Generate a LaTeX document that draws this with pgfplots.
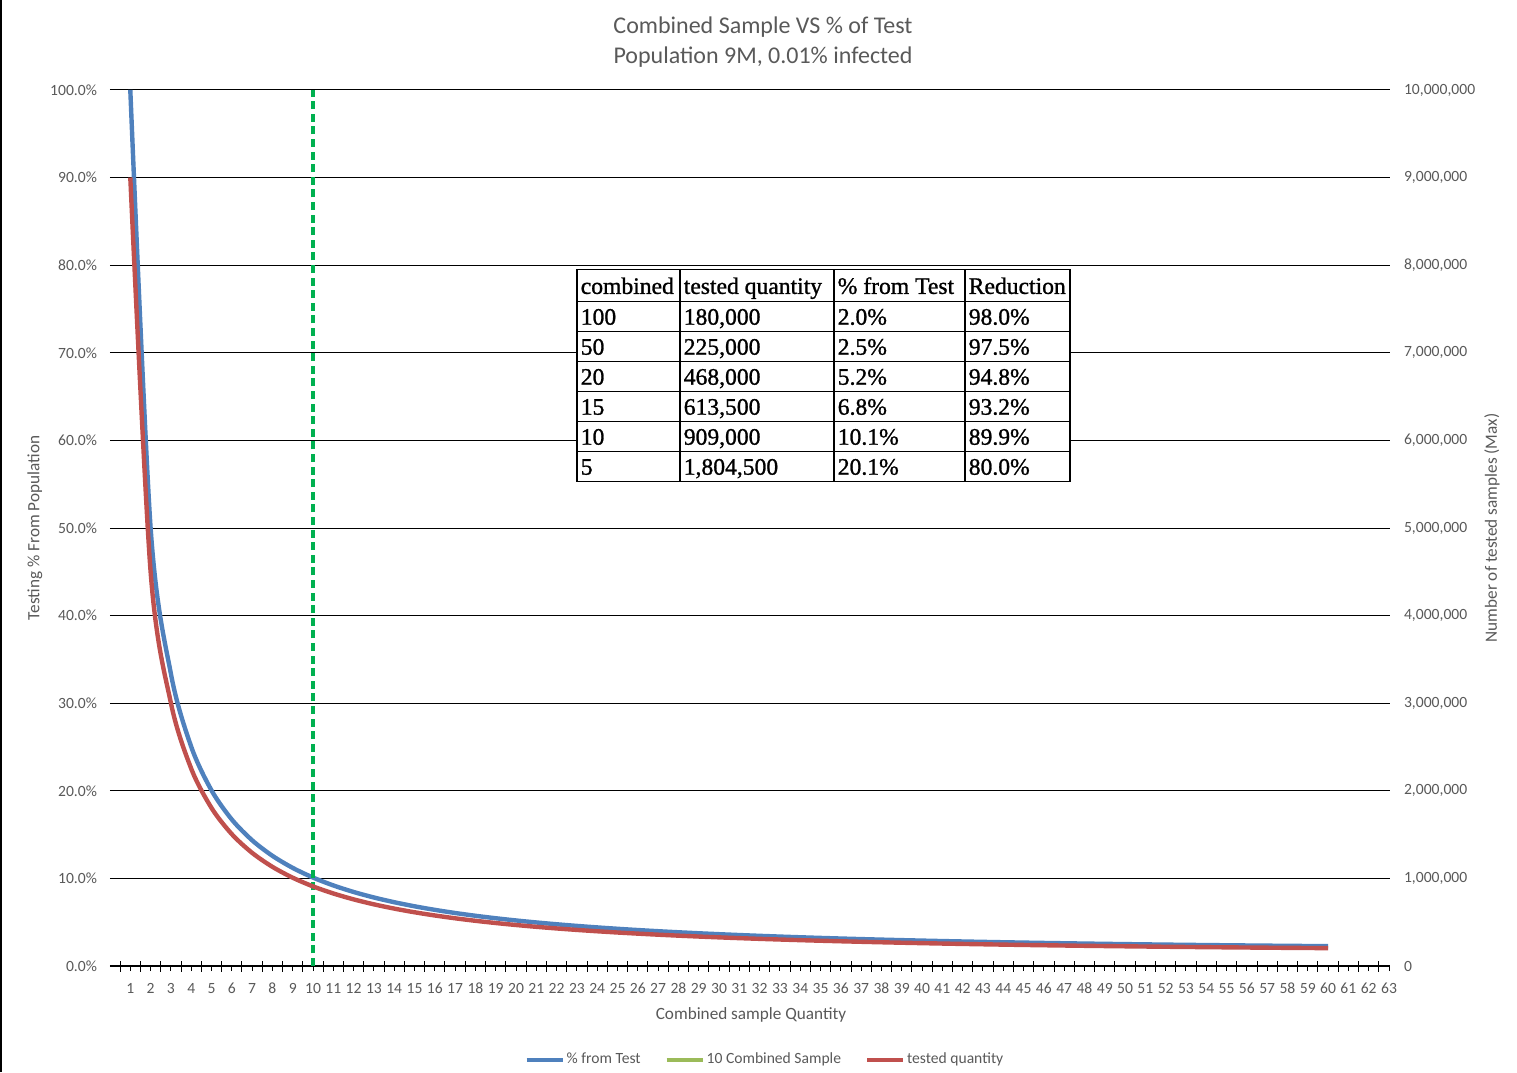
\documentclass[border=0pt]{standalone}
\usepackage{pgfplots}
\pgfplotsset{compat=1.18}
\usepackage{pgfplotstable}
\usepackage{array}
\usepackage{fontspec}
\setmainfont{Carlito}
\newfontfamily\tabfont[FakeBold=1.1]{Liberation Serif}
\definecolor{txtgray}{HTML}{595959}
\definecolor{exblue}{HTML}{4F81BD}
\definecolor{exred}{HTML}{C0504D}
\definecolor{exgreen}{HTML}{9BBB59}
\definecolor{dashgreen}{HTML}{00B050}

\pgfplotstableread{
n pct count
1 100.01 9000900
2 50.02 4501800
3 33.3633 3002700
4 25.04 2253600
5 20.05 1804500
6 16.7267 1505400
7 14.3557 1292014
8 12.58 1132200
9 11.2011 1008100
10 10.1 909000
11 9.2009 828082
12 8.4533 760800
13 7.8223 704008
14 7.2829 655457
15 6.8167 613500
16 6.41 576900
17 6.0524 544712
18 5.7356 516200
19 5.4532 490784
20 5.2 468000
21 4.9719 447471
22 4.7655 428891
23 4.5778 412004
24 4.4067 396600
25 4.25 382500
26 4.1062 369554
27 3.9737 357633
28 3.8514 346629
29 3.7383 336445
30 3.6333 327000
31 3.5358 318223
32 3.445 310050
33 3.3603 302427
34 3.2812 295306
35 3.2071 288643
36 3.1378 282400
37 3.0727 276543
38 3.0116 271042
39 2.9541 265869
40 2.9 261000
41 2.849 256412
42 2.801 252086
43 2.7556 248002
44 2.7127 244145
45 2.6722 240500
46 2.6339 237052
47 2.5977 233789
48 2.5633 230700
49 2.5308 227773
50 2.5 225000
51 2.4708 222371
52 2.4431 219877
53 2.4168 217511
54 2.3919 215267
55 2.3682 213136
56 2.3457 211114
57 2.3244 209195
58 2.3041 207372
59 2.2849 205642
60 2.2667 204000
}\datatable

\pgfplotsset{
  common/.style={
    scale only axis, width=640pt, height=438pt,
    xmin=0, xmax=63.05, ymin=0, clip=false,
    tick label style={font=\fontsize{7.8}{9}\selectfont, text=txtgray},
    label style={font=\fontsize{8.6}{10}\selectfont, text=txtgray},
  }
}

\begin{document}
\begin{tikzpicture}
\begin{axis}[common,
  name=ax1,
  ymax=100,
  axis x line*=bottom, axis y line*=left,
  y axis line style={draw=none},
  x axis line style={black, line width=0.6pt},
  ytick={0,10,...,100},
  yticklabels={0.0\%,10.0\%,20.0\%,30.0\%,40.0\%,50.0\%,60.0\%,70.0\%,80.0\%,90.0\%,100.0\%},
  ytick style={draw=none},
  yticklabel style={xshift=-0.5pt},
  ymajorgrids, grid style={black, line width=0.5pt},
  xtick={1,...,63},
  xticklabel style={yshift=-2.5pt},
  xtick style={black, line width=0.5pt},
  tick align=outside, major tick length=2.5pt,
  extra x ticks={0.5,1.5,...,62.5},
  extra x tick labels={},
  extra x tick style={tick align=center, major tick length=5.5pt, grid=none},
  /pgf/number format/assume math mode=true,
  xlabel={Combined sample Quantity},
  xlabel style={at={(axis description cs:0.5008,0)}, anchor=center, yshift=-24.5pt},
  ylabel={Testing \% From Population},
  ylabel style={at={(axis description cs:-0.0586,0.5)}, anchor=center},
  legend columns=3,
  legend style={draw=none, fill=none, at={(axis description cs:0.5117,0)}, anchor=center, yshift=-47pt,
    font=\fontsize{7.8}{9}\selectfont, text=txtgray,
    nodes={inner sep=1pt},
    /tikz/every even column/.append style={column sep=11pt}},
  legend image code/.code={\draw[#1, line width=2pt] (0pt,0pt) -- (18pt,0pt);},
]
\addplot[exblue, line width=2.2pt, smooth] table[x=n, y=pct] {\datatable};
\addlegendentry{\% from Test}
\addlegendimage{exgreen, line width=2pt}
\addlegendentry{10 Combined Sample}
\addlegendimage{exred, line width=2pt}
\addlegendentry{tested quantity}
\addplot[dashgreen, line width=1.6pt, dash pattern=on 4pt off 2.3pt, forget plot] coordinates {(10,0) (10,100)};
\coordinate (SW) at (rel axis cs:0,0);
\coordinate (NE) at (rel axis cs:1,1);
\coordinate (NW) at (rel axis cs:0,1);
\end{axis}
\begin{axis}[common,
  ymax=10000000,
  axis y line*=right, axis x line=none,
  y axis line style={draw=none},
  ytick={0,1000000,...,10000000},
  yticklabels={0,{1,000,000},{2,000,000},{3,000,000},{4,000,000},{5,000,000},{6,000,000},{7,000,000},{8,000,000},{9,000,000},{10,000,000}},
  scaled y ticks=false,
  ytick style={draw=none},
  yticklabel style={xshift=3.5pt},
  ylabel={Number of tested samples (Max)},
  ylabel style={at={(axis description cs:1.0797,0.5)}, anchor=center},
]
\addplot[exred, line width=2.2pt, smooth] table[x=n, y=count] {\datatable};
\end{axis}

% inline table
\path (SW) -- coordinate[pos=0.5574] (tx) (SW -| NE);
\path (SW) -- coordinate[pos=0.6741] (ty) (NW);
\node[fill=white, inner sep=0pt] at (tx |- ty) {%
  \tabfont\fontsize{11.8}{10}\selectfont
  \setlength\tabcolsep{1.5pt}\setlength\arrayrulewidth{0.8pt}%
  \begin{tabular}{|p{47.7pt}|p{73.2pt}|p{61.7pt}|p{48.7pt}|}
  \hline
  \rule[-3.4pt]{0pt}{15.2pt}combined & tested quantity & \% from Test & Reduction\\ \hline
  \rule[-3pt]{0pt}{14.2pt}100 & 180,000 & 2.0\% & 98.0\%\\ \hline
  \rule[-3pt]{0pt}{14.2pt}50 & 225,000 & 2.5\% & 97.5\%\\ \hline
  \rule[-3pt]{0pt}{14.2pt}20 & 468,000 & 5.2\% & 94.8\%\\ \hline
  \rule[-3pt]{0pt}{14.2pt}15 & 613,500 & 6.8\% & 93.2\%\\ \hline
  \rule[-3pt]{0pt}{14.2pt}10 & 909,000 & 10.1\% & 89.9\%\\ \hline
  \rule[-3pt]{0pt}{14.2pt}5 & 1,804,500 & 20.1\% & 80.0\%\\ \hline
  \end{tabular}};

% title
\node[align=center, text=txtgray, font=\fontsize{12}{15}\selectfont, anchor=center]
  at ([shift={(326.5pt,24pt)}]NW) {Combined Sample VS \% of Test\\Population 9M, 0.01\% infected};

% frame and bounding box
\coordinate (BL) at ([shift={(-55pt,-53pt)}]SW);
\coordinate (TR) at ([shift={(63.5pt,45pt)}]NE);
\path (BL |- TR) coordinate (TL);
\draw[black, line width=0.8pt] ([xshift=0.6pt]BL) -- ([xshift=0.6pt]TL);
\pgfresetboundingbox
\path (BL) rectangle (TR);
\end{tikzpicture}
\end{document}
